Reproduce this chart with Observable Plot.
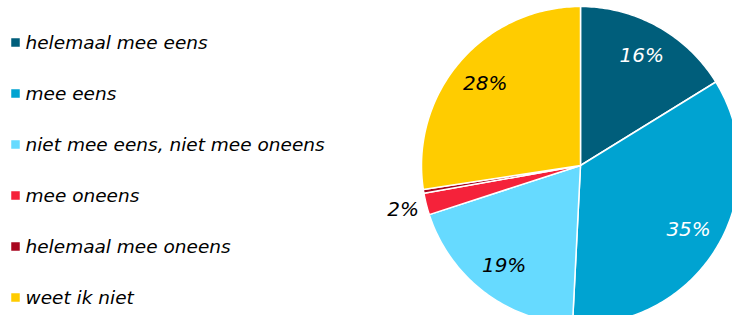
<!DOCTYPE html>
<html><head><meta charset="utf-8">
<script src="https://cdn.jsdelivr.net/npm/d3@7"></script>
<script src="https://cdn.jsdelivr.net/npm/@observablehq/plot@0.6"></script>
<style>
html,body{margin:0;padding:0;background:#fff;overflow:hidden;}
#wrap{position:relative;width:732px;height:315px;}
#wrap svg{position:absolute;left:0;top:0;}
</style></head><body>
<div id="wrap"></div>
<script>
const categories = ["helemaal mee eens","mee eens","niet mee eens, niet mee oneens","mee oneens","helemaal mee oneens","weet ik niet"];
const values = [16.2, 34.6, 19.2, 2.2, 0.4, 27.4];
const labels = ["16%","35%","19%","2%","","28%"];
const colors = ["#005E7B","#00A3D1","#66DAFF","#F5223A","#A8061F","#FFCC00"];
const whiteLabel = ["helemaal mee eens","mee eens"];

const total = d3.sum(values);
let acc = 0;
const slices = categories.map((c, i) => {
  const a0 = acc / total * 2 * Math.PI;
  acc += values[i];
  const a1 = acc / total * 2 * Math.PI;
  return {cat: c, a0, a1, value: values[i], label: labels[i]};
});
const pts = [];
for (const s of slices) {
  pts.push({cat: s.cat, x: 0, y: 0});
  const n = Math.max(2, Math.ceil((s.a1 - s.a0) / (Math.PI / 180)));
  for (let k = 0; k <= n; k++) {
    const a = s.a0 + (s.a1 - s.a0) * k / n;
    pts.push({cat: s.cat, x: Math.sin(a), y: Math.cos(a)});
  }
  pts.push({cat: s.cat, x: 0, y: 0});
}
const labelPts = slices.filter(s => s.label).map(s => {
  const a = (s.a0 + s.a1) / 2;
  const rr = s.value < 5 ? 1.15 : 0.79;
  return {cat: s.cat, label: s.label, x: rr * Math.sin(a), y: rr * Math.cos(a)};
});

const pie = Plot.plot({
  width: 732, height: 315,
  margin: 0,
  x: {domain: [-1, 1], range: [421, 739], axis: null},
  y: {domain: [-1, 1], range: [324, 6], axis: null},
  color: {domain: categories, range: colors},
  marks: [
    Plot.line(pts, {x: "x", y: "y", z: "cat", fill: "cat", stroke: "white", strokeWidth: 1.5, curve: "linear"}),
    Plot.text(labelPts, {x: "x", y: "y", text: "label", fill: d => whiteLabel.includes(d.cat) ? "white" : "black",
      fontSize: 20, fontStyle: "italic", fontFamily: "DejaVu Sans"})
  ]
});

const legend = Plot.plot({
  width: 340, height: 315,
  margin: 0,
  y: {type: "point", domain: categories, range: [41.5, 297], padding: 0, axis: null},
  color: {domain: categories, range: colors},
  marks: [
    Plot.dot(categories, {y: d => d, fill: d => d, symbol: "square", r: 4.8, frameAnchor: "left", dx: 15}),
    Plot.text(categories, {y: d => d, text: d => d, frameAnchor: "left", textAnchor: "start", dx: 25, dy: 1,
      fontSize: 18.5, fontStyle: "italic", fontFamily: "DejaVu Sans", fill: "black"})
  ]
});
legend.style.background = "transparent";
const wrap = document.getElementById("wrap");
wrap.appendChild(pie);
wrap.appendChild(legend);
</script>
</body></html>
